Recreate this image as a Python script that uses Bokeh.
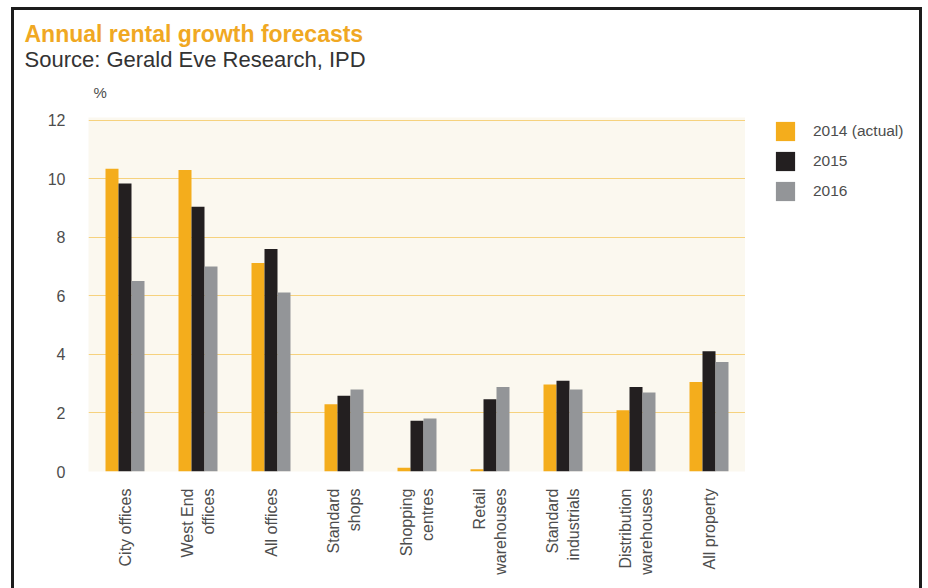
import math
from bokeh.plotting import figure
from bokeh.layouts import row
from bokeh.models import Title, Legend, LegendItem, FactorRange, Range1d, FixedTicker
from bokeh.transform import dodge
from bokeh.embed import file_html
from bokeh.resources import INLINE
from bokeh.models import ColumnDataSource

categories = ["City offices", "West End\noffices", "All offices", "Standard\nshops",
              "Shopping\ncentres", "Retail\nwarehouses", "Standard\nindustrials",
              "Distribution\nwarehouses", "All property"]
v2014 = [10.34, 10.3, 7.12, 2.30, 0.13, 0.08, 2.97, 2.09, 3.06]
v2015 = [9.84, 9.04, 7.6, 2.59, 1.73, 2.47, 3.10, 2.89, 4.11]
v2016 = [6.51, 7.0, 6.11, 2.80, 1.81, 2.89, 2.80, 2.70, 3.74]
series_names = ["2014 (actual)", "2015", "2016"]
y_ticks = [0, 2, 4, 6, 8, 10, 12]

colors = ["#f4ad1c", "#231f20", "#939598"]
FONT = "Liberation Sans"

src = ColumnDataSource(dict(cat=categories, a=v2014, b=v2015, c=v2016))

p = figure(width=731, height=578, x_range=FactorRange(*categories, range_padding=0),
           y_range=Range1d(0, 12.09), output_backend="svg", toolbar_location=None,
           title=None,
           min_border_left=74, min_border_right=0, min_border_top=107, min_border_bottom=117)

p.background_fill_color = "#fbf8ef"
p.border_fill_color = "white"
p.outline_line_color = None

w = 0.178
for col, off, c in zip(["a", "b", "c"], [-w, 0, w], colors):
    p.vbar(x=dodge("cat", off, range=p.x_range), top=col, width=w, source=src,
           fill_color=c, line_color=None)

p.xgrid.grid_line_color = None
p.ygrid.grid_line_color = "#f6d27e"
p.ygrid.grid_line_width = 1
p.yaxis.ticker = FixedTicker(ticks=y_ticks)

for ax in [p.xaxis[0], p.yaxis[0]]:
    ax.axis_line_color = None
    ax.major_tick_line_color = None
    ax.minor_tick_line_color = None
    ax.major_label_text_font = FONT
    ax.major_label_text_color = "#4d4d4d"
    ax.major_label_text_font_size = "16px"
p.yaxis.major_label_standoff = 17
p.xaxis.major_label_standoff = 11
p.xaxis.major_label_orientation = math.pi / 2

p.add_layout(Title(text="%", align="left", offset=5, standoff=34, text_font=FONT,
                   text_font_size="15px", text_font_style="normal", text_color="#4d4d4d"), "above")
p.add_layout(Title(text="Source: Gerald Eve Research, IPD", align="left", offset=-64, standoff=-14,
                   text_font=FONT, text_font_size="22px", text_font_style="normal",
                   text_color="#333333"), "above")
p.add_layout(Title(text="Annual rental growth forecasts", align="left", offset=-64, standoff=9,
                   text_font=FONT, text_font_size="23px", text_font_style="bold",
                   text_color="#f0a823"), "above")

# legend panel: a second canvas whose hidden renderers carry the series colours for the legend
q = figure(width=174, height=578, output_backend="svg", toolbar_location=None, title=None,
           x_axis_type=None, y_axis_type=None, min_border=0,
           x_range=Range1d(0, 1), y_range=Range1d(0, 1))
q.outline_line_color = None
q.grid.grid_line_color = None
q.background_fill_color = "white"
q.border_fill_color = "white"
keys = []
for col, c in zip(["a", "b", "c"], colors):
    r = q.vbar(x="cat", top=col, width=1, source=ColumnDataSource(dict(cat=[0.5], **{col: [0]})),
               fill_color=c, line_color=None)
    r.visible = False
    keys.append(r)
legend = Legend(items=[LegendItem(label=n, renderers=[r]) for n, r in zip(series_names, keys)],
                location=(28, 268), orientation="vertical", glyph_width=24, glyph_height=24,
                label_height=24, spacing=6, padding=0, margin=0, label_standoff=16,
                border_line_color=None, background_fill_alpha=0,
                inactive_fill_alpha=0,
                label_text_font=FONT, label_text_font_size="15.5px", label_text_color="#4d4d4d")
q.add_layout(legend, "center")

layout = row(p, q, spacing=0)
layout.styles = {"margin-left": "11px", "margin-top": "7px",
                 "border-left": "3px solid #1c1c1c", "border-top": "3px solid #1c1c1c",
                 "border-right": "3px solid #1c1c1c"}

open("out.html", "w").write(file_html(layout, INLINE))
